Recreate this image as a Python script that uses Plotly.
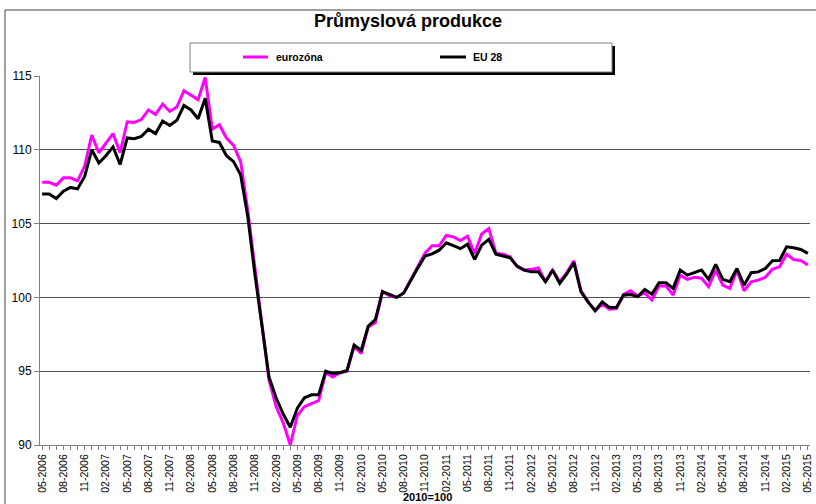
import plotly.graph_objects as go

# ---- data ----
months = []
for k in range(109):
    m = (4 + k) % 12 + 1
    y = 2006 + (4 + k) // 12
    months.append(f"{m:02d}-{y}")

eurozona = [
    107.8, 107.8, 107.6, 108.1, 108.1, 107.9, 108.9, 111.0, 109.8, 110.45,
    111.1, 109.8, 111.9, 111.85, 112.05, 112.7, 112.4, 113.1, 112.6, 112.9,
    114.0, 113.7, 113.4, 114.9, 111.4, 111.7, 110.8, 110.3, 109.2, 105.9,
    101.85, 98.2, 94.4, 92.6, 91.5, 90.0, 92.0, 92.6, 92.8, 93.0,
    94.9, 94.6, 94.9, 95.0, 96.7, 96.2, 98.0, 98.3, 100.4, 100.1,
    100.0, 100.3, 101.2, 102.15, 103.0, 103.5, 103.5, 104.2, 104.1, 103.85,
    104.15, 102.97, 104.3, 104.66, 103.0, 102.93, 102.75, 102.08, 101.85, 101.9,
    102.0, 101.06, 101.85, 101.06, 101.67, 102.48, 100.45, 99.7, 99.1, 99.55,
    99.2, 99.25, 100.2, 100.45, 100.1, 100.3, 99.82, 100.77, 100.77, 100.16,
    101.51, 101.22, 101.36, 101.3, 100.72, 101.85, 100.83, 100.61, 101.85, 100.45,
    101.06, 101.17, 101.36, 101.9, 102.08, 102.93, 102.57, 102.5, 102.19,
]

eu28 = [
    107.0, 107.0, 106.7, 107.2, 107.45, 107.35, 108.2, 110.0, 109.1, 109.6,
    110.2, 109.0, 110.8, 110.75, 110.9, 111.4, 111.1, 111.95, 111.65, 112.0,
    113.0, 112.7, 112.1, 113.5, 110.6, 110.5, 109.6, 109.2, 108.3, 105.5,
    101.6, 98.2, 94.6, 93.2, 92.1, 91.2, 92.5, 93.2, 93.4, 93.4,
    95.0, 94.85, 94.9, 95.05, 96.77, 96.4, 98.06, 98.5, 100.38, 100.2,
    100.0, 100.3, 101.2, 102.0, 102.8, 102.95, 103.2, 103.7, 103.5, 103.3,
    103.6, 102.57, 103.54, 103.93, 102.93, 102.8, 102.68, 102.12, 101.85, 101.73,
    101.73, 101.06, 101.85, 100.95, 101.6, 102.35, 100.38, 99.7, 99.1, 99.7,
    99.32, 99.32, 100.15, 100.2, 100.05, 100.54, 100.22, 100.99, 100.99, 100.61,
    101.85, 101.51, 101.67, 101.85, 101.22, 102.24, 101.22, 101.06, 101.96, 100.83,
    101.67, 101.73, 101.96, 102.48, 102.5, 103.43, 103.36, 103.25, 102.98,
]

tick_labels = [m if i % 3 == 0 else "" for i, m in enumerate(months)]
y_ticks = [90, 95, 100, 105, 110, 115]

FONT = "Liberation Sans, Arial, sans-serif"

fig = go.Figure()
fig.add_trace(go.Scatter(x=months, y=eurozona, mode="lines", name="eurozóna",
                         line=dict(color="#FF00FF", width=3)))
fig.add_trace(go.Scatter(x=months, y=eu28, mode="lines", name="EU 28",
                         line=dict(color="#000000", width=3)))

W, H = 816, 504
L, R, T, B = 40, 6, 76, 59
pw, ph = W - L - R, H - T - B


def px(xp):
    return (xp - L) / pw


def py(yp):
    return (H - B - yp) / ph


shapes = []
# outer frame
shapes.append(dict(type="rect", xref="paper", yref="paper",
                   x0=px(5), x1=px(830), y0=py(520), y1=py(10),
                   line=dict(color="#404040", width=1), fillcolor="rgba(0,0,0,0)"))
# legend shadow + box
shapes.append(dict(type="rect", xref="paper", yref="paper",
                   x0=px(193), x1=px(615), y0=py(75), y1=py(46),
                   line=dict(width=0), fillcolor="#000000"))
shapes.append(dict(type="rect", xref="paper", yref="paper",
                   x0=px(190), x1=px(612), y0=py(72), y1=py(43),
                   line=dict(color="#808080", width=1), fillcolor="#FFFFFF"))
# legend samples
shapes.append(dict(type="line", xref="paper", yref="paper",
                   x0=px(243), x1=px(268), y0=py(57), y1=py(57),
                   line=dict(color="#FF00FF", width=3)))
shapes.append(dict(type="line", xref="paper", yref="paper",
                   x0=px(440), x1=px(466), y0=py(57), y1=py(57),
                   line=dict(color="#000000", width=3)))

annotations = [
    dict(text="<b>Průmyslová produkce</b>", xref="paper", yref="paper",
         x=px(408), y=py(21), xanchor="center", yanchor="middle", showarrow=False,
         font=dict(family=FONT, size=18, color="#000")),
    dict(text="<b>eurozóna</b>", xref="paper", yref="paper",
         x=px(274), y=py(57), xanchor="left", yanchor="middle", showarrow=False,
         font=dict(family=FONT, size=10.5, color="#000")),
    dict(text="<b>EU 28</b>", xref="paper", yref="paper",
         x=px(471), y=py(57), xanchor="left", yanchor="middle", showarrow=False,
         font=dict(family=FONT, size=10.5, color="#000")),
    dict(text="<b>2010=100</b>", xref="paper", yref="paper",
         x=px(428), y=py(497), xanchor="center", yanchor="middle", showarrow=False,
         font=dict(family=FONT, size=11, color="#000")),
]

fig.update_layout(
    width=W, height=H,
    margin=dict(l=L, r=R, t=T, b=B, pad=0, autoexpand=False),
    paper_bgcolor="white", plot_bgcolor="white",
    showlegend=False,
    shapes=shapes, annotations=annotations,
    font=dict(family=FONT, size=12, color="#000"),
)
fig.update_xaxes(
    type="category", range=[-0.3, 108.3], automargin=False,
    tickmode="array", tickvals=months, ticktext=tick_labels,
    tickangle=-90, tickfont=dict(family=FONT, size=10.5, color="#000"),
    ticks="outside", ticklen=4, tickcolor="#808080", tickwidth=1,
    showline=True, linecolor="#808080", linewidth=1,
    showgrid=False, zeroline=False,
)
fig.update_yaxes(
    range=[90, 115], tickvals=y_ticks, automargin=False,
    tickfont=dict(family=FONT, size=12, color="#000"),
    ticks="outside", ticklen=5, tickcolor="#808080", tickwidth=1,
    showline=True, linecolor="#808080", linewidth=1,
    showgrid=True, gridcolor="#505050", gridwidth=1, zeroline=False,
)

fig.write_html("out.html", config={"displayModeBar": False},
               post_script="document.body.style.margin='0px';")
